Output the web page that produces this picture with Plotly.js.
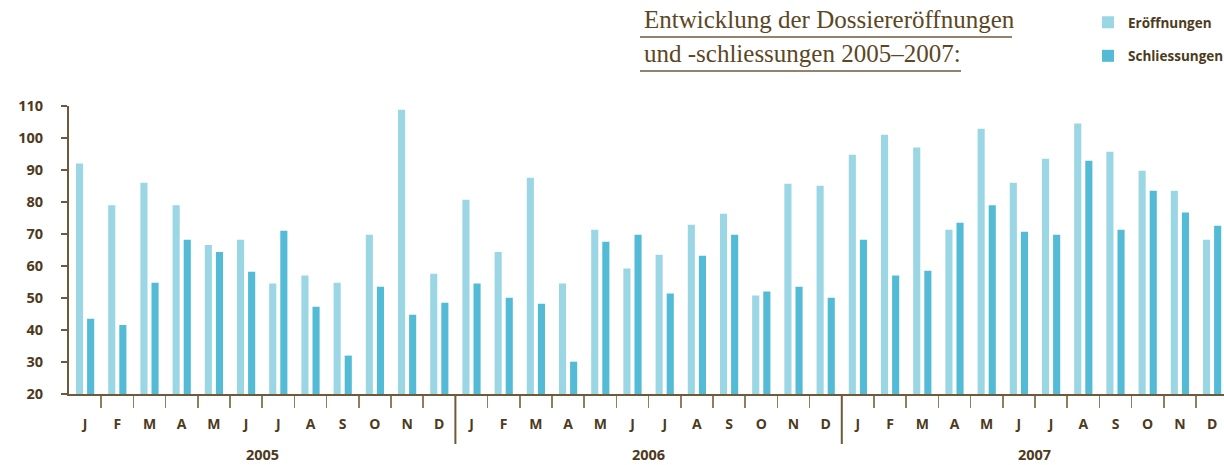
<!DOCTYPE html>
<html>
<head>
<meta charset="utf-8">
<script src="https://cdn.plot.ly/plotly-3.0.1.min.js"></script>
<style>html,body{margin:0;padding:0;background:#fff;}#chart{width:1224px;height:465px;}</style>
</head>
<body>
<div id="chart"></div>
<script>
// ---- data ----
const monthLetters = ["J","F","M","A","M","J","J","A","S","O","N","D"];
const years = ["2005","2006","2007"];
const eroeffnungen = [
  92, 79, 86, 79, 66.6, 68.2, 54.5, 57, 54.8, 69.8, 108.8, 57.6,
  80.7, 64.4, 87.6, 54.5, 71.3, 59.2, 63.5, 72.9, 76.3, 50.8, 85.7, 85.1,
  94.8, 101, 97, 71.3, 102.9, 86, 93.5, 104.5, 95.7, 89.8, 83.5, 68.2
];
const schliessungen = [
  43.5, 41.6, 54.8, 68.2, 64.4, 58.2, 71, 47.3, 32, 53.5, 44.8, 48.5,
  54.5, 50.1, 48.2, 30.1, 67.6, 69.8, 51.4, 63.2, 69.8, 52, 53.5, 50.1,
  68.2, 57, 58.5, 73.5, 79, 70.7, 69.8, 92.9, 71.3, 83.5, 76.7, 72.6
];
const yTicks = [20,30,40,50,60,70,80,90,100,110];

// ---- derived ----
const idx = eroeffnungen.map((_, i) => i);
const tickText = idx.map(i => monthLetters[i % 12]);
const monthBounds = idx.slice(1).map(i => i - 0.5).filter(v => v !== 11.5 && v !== 23.5);
const yearBounds = [11.5, 23.5];
const yearCenters = years.map((_, k) => k * 12 + 5.5);

const brown = '#4d3a1c';
const axisBrown = '#6e5a38';
const tickBrown = '#8f7f62';

const traces = [
  {type:'bar', name:'Eröffnungen', x: idx, y: eroeffnungen,
   marker:{color:'#9bd6e5'}, legendgroup:'a', hoverinfo:'y'},
  {type:'bar', name:'Schliessungen', x: idx, y: schliessungen,
   marker:{color:'#53bbd5'}, legendgroup:'b', hoverinfo:'y'}
];

const titleFont = {family:'Liberation Serif, serif', size:25, color:'#5c4724'};
const annotations = [
  {text:'Entwicklung der Dossiereröffnungen', xref:'paper', yref:'paper', x:(642-69)/1155, y:1+(106-28)/288,
   xanchor:'left', yanchor:'bottom', showarrow:false, font:titleFont, yshift:-7},
  {text:'und -schliessungen 2005–2007:', xref:'paper', yref:'paper', x:(642-69)/1155, y:1+(106-62)/288,
   xanchor:'left', yanchor:'bottom', showarrow:false, font:titleFont, yshift:-7}
];
years.forEach((yr, k) => annotations.push({
  text: yr, x: yearCenters[k], xref:'x', yref:'paper', y: -(454-394)/288, yanchor:'middle',
  showarrow:false, font:{family:'Open Sans, sans-serif', size:14.5, color:brown, weight:700}
}));

const shapes = [
  {type:'line', xref:'paper', yref:'paper', x0:(640-69)/1155, x1:(1012-69)/1155, y0:1+(106-37)/288, y1:1+(106-37)/288,
   line:{color:'#6e5a38', width:1.5}},
  {type:'line', xref:'paper', yref:'paper', x0:(640-69)/1155, x1:(961-69)/1155, y0:1+(106-71)/288, y1:1+(106-71)/288,
   line:{color:'#6e5a38', width:1.5}}
];
yearBounds.forEach(b => shapes.push({type:'line', xref:'x', yref:'paper', x0:b, x1:b, y0:0, y1:-(444-394)/288,
  line:{color:axisBrown, width:2}}));

const layout = {
  width:1224, height:465,
  margin:{l:69, r:0, t:106, b:71, autoexpand:false},
  paper_bgcolor:'#fff', plot_bgcolor:'#fff',
  barmode:'group', bargap:0.31, bargroupgap:0.36,
  showlegend:true,
  legend:{xref:'container', yref:'container', x:1088/1224, y:1-7/465, xanchor:'left', yanchor:'top',
    font:{family:'Open Sans, sans-serif', size:13.5, color:brown, weight:700}, tracegroupgap:13,
    traceorder:'grouped', bgcolor:'rgba(0,0,0,0)'},
  xaxis:{range:[-0.5, 35.37], tickmode:'array', tickvals: idx, ticktext: tickText, ticks:'',
    showline:true, linecolor:axisBrown, linewidth:2, showgrid:false, zeroline:false,
    ticklabelstandoff:16,
    tickfont:{family:'Open Sans, sans-serif', size:14, color:brown, weight:700},
    minor:{tickvals: monthBounds, ticks:'outside', ticklen:12, tickwidth:1.5, tickcolor:tickBrown, showgrid:false},
    fixedrange:true},
  yaxis:{range:[20,110], tickmode:'array', tickvals:yTicks, ticks:'outside', ticklen:6, tickcolor:axisBrown, tickwidth:1.5,
    showline:true, linecolor:axisBrown, linewidth:2, showgrid:false, zeroline:false,
    ticklabelstandoff:15,
    tickfont:{family:'Open Sans, sans-serif', size:14.5, color:brown, weight:700}, fixedrange:true},
  annotations: annotations,
  shapes: shapes,
  font:{family:'Open Sans, sans-serif', color:brown}
};

Plotly.newPlot('chart', traces, layout, {displayModeBar:false, staticPlot:true});
</script>
</body>
</html>
